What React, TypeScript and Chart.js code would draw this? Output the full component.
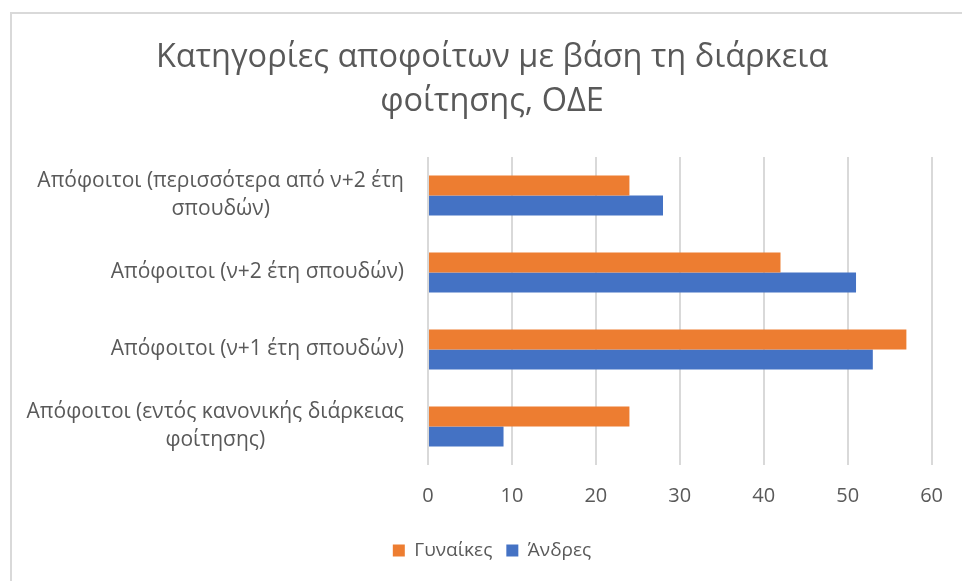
import React, { useEffect, useRef } from "react";
import { Chart, registerables } from "chart.js";

Chart.register(...registerables);

const titleLines = ["Κατηγορίες αποφοίτων με βάση τη διάρκεια", "φοίτησης, ΟΔΕ"];
const categories: string[][] = [
  ["Απόφοιτοι (περισσότερα από ν+2 έτη", "σπουδών)"],
  ["Απόφοιτοι (ν+2 έτη σπουδών)"],
  ["Απόφοιτοι (ν+1 έτη σπουδών)"],
  ["Απόφοιτοι (εντός κανονικής διάρκειας", "φοίτησης)"],
];
const women = [24, 42, 57, 24];
const men = [28, 51, 53, 9];
const seriesNames = ["Γυναίκες", "Άνδρες"];
const xMin = 0;
const xMax = 60;
const xStep = 10;

const FONT = "'Open Sans', sans-serif";
const TEXT = "#595959";
const LABEL_SIZE = 21;
const TICK_SIZE = 20;
const LABEL_LINE = 28;

const blockLabels = {
  id: "blockLabels",
  afterDraw(chart: any) {
    const scale = chart.scales.y;
    const ctx = chart.ctx;
    ctx.save();
    ctx.font = `${LABEL_SIZE}px ${FONT}`;
    ctx.fillStyle = TEXT;
    ctx.textBaseline = "middle";
    ctx.textAlign = "center";
    const right = scale.right - 24;
    categories.forEach((lines, i) => {
      const y = scale.getPixelForTick(i);
      const widths = lines.map((l) => ctx.measureText(l).width);
      const w = Math.max(...widths);
      const cx = right - w / 2;
      const y0 = y - ((lines.length - 1) * LABEL_LINE) / 2;
      lines.forEach((l, j) => ctx.fillText(l, cx, y0 + j * LABEL_LINE));
    });
    ctx.restore();
  },
};

export default function App() {
  const ref = useRef<HTMLCanvasElement>(null);
  useEffect(() => {
    document.body.style.margin = "0";
    const chart = new Chart(ref.current!, {
      type: "bar",
      data: {
        labels: categories,
        datasets: [
          { label: seriesNames[0], data: women, backgroundColor: "#ED7D31", borderWidth: 0 },
          { label: seriesNames[1], data: men, backgroundColor: "#4472C4", borderWidth: 0 },
        ],
      },
      plugins: [blockLabels],
      options: {
        indexAxis: "y",
        responsive: false,
        animation: false,
        datasets: { bar: { categoryPercentage: 0.52, barPercentage: 1 } },
        layout: { padding: { left: 40, right: 18, top: 36, bottom: 11 } },
        scales: {
          x: {
            min: xMin,
            max: xMax,
            ticks: { stepSize: xStep, color: TEXT, font: { family: FONT, size: TICK_SIZE }, padding: 19 },
            grid: { color: "#D9D9D9", lineWidth: 2, drawTicks: false },
            border: { display: false },
          },
          y: {
            grid: { display: false },
            border: { display: false },
            ticks: { color: "transparent", font: { family: FONT, size: LABEL_SIZE } },
            afterFit(scale: any) {
              scale.width = 388;
            },
          },
        },
        plugins: {
          title: {
            display: true,
            text: titleLines,
            color: TEXT,
            font: { family: FONT, size: 32.5, weight: "normal", lineHeight: 1.354 },
            padding: { top: 0, bottom: 33 },
          },
          legend: {
            position: "bottom",
            labels: {
              color: TEXT,
              font: { family: FONT, size: 19 },
              boxWidth: 12,
              boxHeight: 12,
              padding: 14,
            },
          },
          tooltip: { enabled: false },
        },
      },
    });
    return () => chart.destroy();
  }, []);
  return (
    <div style={{ position: "fixed", left: 0, top: 0, width: 962, height: 581, overflow: "hidden", background: "#fff" }}>
      <div
        style={{
          position: "absolute",
          left: 10,
          top: 12,
          width: 1000,
          height: 700,
          border: "2px solid #D9D9D9",
          boxSizing: "border-box",
        }}
      />
      <canvas ref={ref} width={962} height={581} style={{ position: "absolute", left: 0, top: 0 }} />
    </div>
  );
}
